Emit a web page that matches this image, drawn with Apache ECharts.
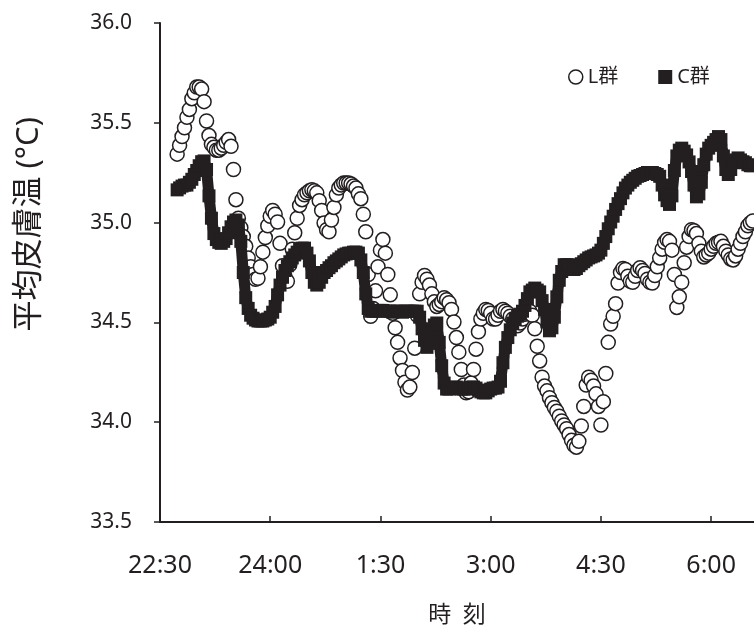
<!DOCTYPE html>
<html>
<head>
<meta charset="utf-8">
<script src="https://cdn.jsdelivr.net/npm/echarts@6/dist/echarts.min.js"></script>
<style>
html,body{margin:0;padding:0;background:#fff;}
#chart{width:754px;height:632px;}
</style>
</head>
<body>
<div id="chart"></div>
<script>
// Time axis: minutes after 22:30; samples every 2 minutes starting at 22:44
const startMinute = 14;
const stepMinutes = 2;
const tickMinutes = [0, 90, 180, 270, 360, 450];
const tickLabels = ['22:30', '24:00', '1:30', '3:00', '4:30', '6:00'];
const yTicks = [33.5, 34.0, 34.5, 35.0, 35.5, 36.0];
const seriesNames = ['L群', 'C群'];

// L群 (open circles)
const lValues = [
35.343,35.387,35.431,35.475,35.528,35.567,35.621,35.650,35.679,35.679,
35.669,35.606,35.509,35.436,35.392,35.377,35.363,35.363,35.373,35.387,
35.402,35.416,35.382,35.266,35.115,35.022,34.974,34.930,34.881,34.823,
34.779,34.740,34.716,34.721,34.779,34.852,34.925,34.984,35.032,35.061,
35.042,35.003,34.896,34.784,34.731,34.706,34.789,34.867,34.949,35.022,
35.086,35.115,35.139,35.149,35.159,35.164,35.159,35.149,35.110,35.061,
34.998,34.964,34.954,35.013,35.076,35.139,35.173,35.188,35.198,35.198,
35.198,35.193,35.183,35.173,35.144,35.120,35.042,34.954,34.740,34.531,
34.570,34.658,34.779,34.862,34.915,34.847,34.740,34.638,34.546,34.473,
34.400,34.322,34.259,34.200,34.161,34.176,34.249,34.371,34.536,34.643,
34.701,34.735,34.716,34.687,34.643,34.604,34.580,34.590,34.604,34.624,
34.614,34.599,34.565,34.502,34.424,34.351,34.264,34.186,34.147,34.152,
34.196,34.264,34.366,34.453,34.517,34.546,34.565,34.560,34.546,34.517,
34.517,34.536,34.556,34.565,34.556,34.546,34.531,34.517,34.497,34.483,
34.497,34.517,34.541,34.551,34.556,34.536,34.468,34.380,34.307,34.225,
34.181,34.157,34.123,34.098,34.074,34.055,34.030,34.006,33.986,33.967,
33.938,33.909,33.884,33.875,33.904,33.981,34.079,34.186,34.225,34.210,
34.181,34.142,34.079,33.986,34.103,34.244,34.400,34.492,34.531,34.594,
34.697,34.750,34.770,34.765,34.731,34.706,34.701,34.731,34.760,34.774,
34.760,34.745,34.716,34.701,34.697,34.735,34.779,34.823,34.867,34.901,
34.915,34.906,34.862,34.740,34.575,34.628,34.701,34.799,34.877,34.930,
34.964,34.959,34.945,34.896,34.857,34.828,34.838,34.847,34.867,34.881,
34.896,34.901,34.906,34.881,34.857,34.838,34.818,34.813,34.833,34.867,
34.896,34.930,34.954,34.984,34.998,35.008
];

// C群 (filled squares)
const cValues = [
35.164,35.174,35.183,35.188,35.188,35.202,35.217,35.241,35.261,35.285,
35.305,35.309,35.266,35.134,35.022,34.945,34.915,34.901,34.896,34.906,
34.920,34.949,34.979,35.003,35.013,34.988,34.906,34.750,34.624,34.570,
34.536,34.521,34.512,34.507,34.507,34.507,34.512,34.517,34.526,34.551,
34.580,34.638,34.687,34.726,34.760,34.784,34.804,34.823,34.838,34.852,
34.867,34.872,34.872,34.847,34.808,34.750,34.701,34.687,34.701,34.726,
34.750,34.760,34.774,34.784,34.799,34.808,34.818,34.828,34.838,34.843,
34.847,34.847,34.852,34.852,34.847,34.813,34.750,34.643,34.570,34.556,
34.556,34.556,34.560,34.560,34.560,34.556,34.556,34.556,34.551,34.556,
34.556,34.556,34.551,34.556,34.556,34.556,34.556,34.556,34.556,34.526,
34.468,34.410,34.375,34.395,34.449,34.487,34.497,34.400,34.283,34.196,
34.166,34.166,34.171,34.176,34.176,34.171,34.166,34.166,34.166,34.171,
34.176,34.176,34.171,34.161,34.152,34.147,34.147,34.157,34.166,34.171,
34.171,34.176,34.205,34.298,34.375,34.424,34.463,34.497,34.517,34.531,
34.541,34.556,34.585,34.619,34.653,34.662,34.672,34.662,34.653,34.609,
34.565,34.502,34.458,34.473,34.526,34.628,34.711,34.755,34.789,34.789,
34.789,34.774,34.765,34.770,34.784,34.794,34.804,34.813,34.823,34.828,
34.833,34.838,34.847,34.862,34.896,34.930,34.969,35.003,35.032,35.066,
35.095,35.120,35.149,35.173,35.188,35.202,35.212,35.222,35.232,35.236,
35.241,35.246,35.251,35.251,35.251,35.246,35.241,35.232,35.188,35.139,
35.110,35.091,35.134,35.261,35.334,35.363,35.373,35.358,35.339,35.304,
35.256,35.188,35.129,35.144,35.202,35.290,35.343,35.373,35.387,35.402,
35.416,35.431,35.416,35.334,35.266,35.241,35.266,35.300,35.314,35.324,
35.314,35.305,35.300,35.290,35.285,35.285
];

function toPairs(values) {
  return values.map((v, i) => [startMinute + i * stepMinutes, v]);
}

const INK = '#231f20';
const FONT = "'Noto Sans', 'Noto Sans CJK JP', sans-serif";
const chart = echarts.init(document.getElementById('chart'), null, {renderer: 'canvas'});

chart.setOption({
  animation: false,
  backgroundColor: '#ffffff',
  grid: {left: 160, right: 0, top: 23, bottom: 95, containLabel: false},
  legend: {
    left: 563, top: 62,
    itemGap: 40, itemWidth: 14, itemHeight: 14,
    textStyle: {fontSize: 20, color: INK, fontFamily: FONT},
    data: [
      {name: seriesNames[0], icon: 'circle', itemStyle: {color: '#fff', borderColor: INK, borderWidth: 1.5}},
      {name: seriesNames[1], icon: 'rect', itemStyle: {color: INK, borderWidth: 0}, lineStyle: {width: 0}}
    ]
  },
  xAxis: {
    type: 'value', min: 0, max: 485, interval: 90,
    name: '時\u2002刻', nameLocation: 'middle', nameGap: 82,
    nameTextStyle: {fontSize: 23, color: INK, fontFamily: FONT},
    axisLine: {show: true, lineStyle: {color: INK, width: 2}},
    axisTick: {show: true, inside: true, length: 6, lineStyle: {color: INK, width: 1.5}},
    splitLine: {show: false},
    axisLabel: {
      margin: 31, fontSize: 25, color: INK, fontFamily: FONT, showMaxLabel: false,
      formatter: function (v) {
        const k = tickMinutes.indexOf(Math.round(v));
        return k >= 0 ? tickLabels[k] : '';
      }
    }
  },
  yAxis: {
    type: 'value', min: yTicks[0], max: yTicks[yTicks.length - 1], interval: 0.5,
    axisLine: {show: true, lineStyle: {color: INK, width: 2}},
    axisTick: {show: true, inside: false, length: 6, lineStyle: {color: INK, width: 1.5}},
    splitLine: {show: false},
    axisLabel: {
      margin: 28, fontSize: 21, color: INK, fontFamily: FONT,
      formatter: function (v) { return v.toFixed(1); }
    }
  },
  graphic: [{
    type: 'text', left: 14, top: 117, rotation: Math.PI / 2,
    style: {text: '平均皮膚温 (°C)', fontSize: 31, fill: INK, fontFamily: FONT}
  }],
  series: [
    {
      name: seriesNames[0], type: 'scatter', symbol: 'circle', symbolSize: 14,
      itemStyle: {color: '#ffffff', borderColor: INK, borderWidth: 1.5, opacity: 1},
      data: toPairs(lValues), z: 2
    },
    {
      name: seriesNames[1], type: 'line', symbol: 'rect', symbolSize: 13,
      showAllSymbol: true, smooth: false,
      lineStyle: {color: INK, width: 11},
      itemStyle: {color: INK, opacity: 1},
      data: toPairs(cValues), z: 3
    }
  ]
});
</script>
</body>
</html>
